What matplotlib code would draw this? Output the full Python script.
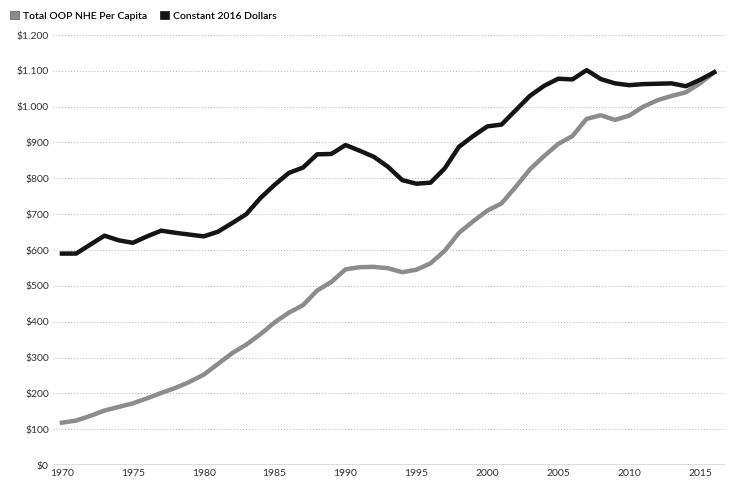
import matplotlib
matplotlib.use("Agg")
import matplotlib.pyplot as plt
from matplotlib.patches import Patch

plt.rcParams['font.family'] = ['Lato', 'DejaVu Sans']

years = list(range(1970, 2017))
constant_2016 = [590, 590, 615, 640, 627, 620, 638, 654, 648, 643,
                 638, 651, 675, 700, 745, 782, 815, 830, 867, 868,
                 893, 877, 860, 832, 795, 785, 788, 828, 888, 918,
                 945, 950, 990, 1030, 1058, 1078, 1076, 1102, 1077, 1065,
                 1060, 1063, 1064, 1065, 1057, 1075, 1096]
total_oop = [118, 124, 137, 152, 162, 172, 186, 201, 215, 232,
             252, 282, 312, 336, 365, 398, 425, 446, 487, 511,
             546, 552, 553, 549, 538, 545, 563, 598, 648, 680,
             710, 730, 776, 825, 862, 896, 918, 966, 976, 963,
             975, 1000, 1018, 1030, 1040, 1065, 1096]
series_names = ["Total OOP NHE Per Capita", "Constant 2016 Dollars"]
ytick_values = [0, 100, 200, 300, 400, 500, 600, 700, 800, 900, 1000, 1100, 1200]
ytick_labels = ["$0", "$100", "$200", "$300", "$400", "$500", "$600", "$700",
                "$800", "$900", "$1.000", "$1.100", "$1.200"]
xtick_values = [1970, 1975, 1980, 1985, 1990, 1995, 2000, 2005, 2010, 2015]

gray_c = '#8c8c8c'
black_c = '#141414'

fig = plt.figure(figsize=(7.32, 4.98), dpi=100)
ax = fig.add_axes([53/732, 33/498, (725-53)/732, (464-34)/498])

for v in ytick_values[1:]:
    ax.axhline(v, color='#b5b5b5', lw=0.7, ls=(0, (1, 2)), zorder=0)
ax.axhline(0, color='#555555', lw=1.0, zorder=1)

ax.plot(years, total_oop, color=gray_c, lw=3.2, solid_joinstyle='round', zorder=3)
ax.plot(years, constant_2016, color=black_c, lw=3.2, solid_joinstyle='round', zorder=4)

ax.set_xlim(1969.37, 2016.76)
ax.set_ylim(0, 1200)
ax.set_yticks(ytick_values)
ax.set_yticklabels(ytick_labels)
ax.set_xticks(xtick_values)
ax.set_xticklabels([str(x) for x in xtick_values])
ax.tick_params(axis='both', length=0, labelsize=7.5, labelcolor='#333333')
ax.tick_params(axis='y', pad=3)
ax.tick_params(axis='x', pad=3)
for s in ax.spines.values():
    s.set_visible(False)

handles = [Patch(facecolor=gray_c, edgecolor='#555555', lw=0.5),
           Patch(facecolor=black_c, edgecolor=black_c, lw=0.5)]
fig.legend(handles, series_names, loc='center left', bbox_to_anchor=(0.014, 0.968),
           ncol=2, frameon=False, handlelength=0.8, handleheight=0.8,
           handletextpad=0.4, columnspacing=1.3, borderaxespad=0,
           borderpad=0, prop={'size': 7.5, 'weight': 'semibold'})

fig.savefig('out.png', dpi=100)
